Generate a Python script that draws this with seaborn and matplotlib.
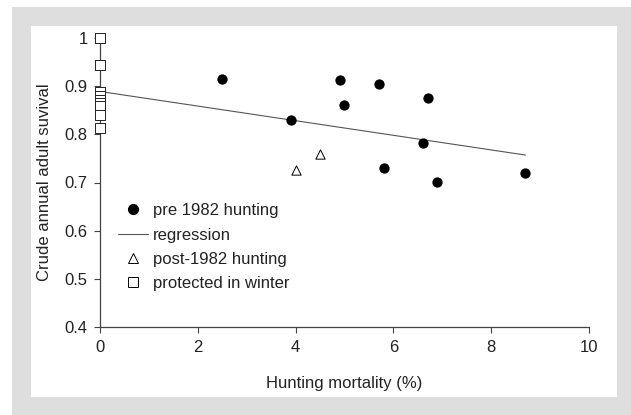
import numpy as np
import pandas as pd
import matplotlib
matplotlib.use("Agg")
import matplotlib.pyplot as plt
from matplotlib.patches import Rectangle
from matplotlib.ticker import FuncFormatter
from matplotlib.lines import Line2D
import seaborn as sns

# ---- data ----
pre_x = [2.5, 3.9, 4.9, 5.0, 5.7, 5.8, 6.6, 6.7, 6.9, 8.7]
pre_y = [0.915, 0.830, 0.913, 0.861, 0.904, 0.731, 0.781, 0.875, 0.701, 0.719]
post_x = [4.0, 4.5]
post_y = [0.726, 0.759]
prot_x = [0, 0, 0, 0, 0, 0, 0, 0, 0]
prot_y = [1.0, 0.943, 0.887, 0.880, 0.872, 0.865, 0.858, 0.840, 0.813]
reg_x = [0.0, 8.7]
reg_y = [0.889, 0.757]
x_ticks = [0, 2, 4, 6, 8, 10]
y_ticks = [0.4, 0.5, 0.6, 0.7, 0.8, 0.9, 1.0]

sns.set_theme(style="ticks")
plt.rcParams['font.family'] = ['Liberation Sans', 'DejaVu Sans']

W, H = 631, 415
fig = plt.figure(figsize=(W / 100, H / 100), dpi=100, facecolor="white")
fig.patches.append(Rectangle((12 / W, 0), 1 - 12 / W, 1 - 7 / H, transform=fig.transFigure,
                             facecolor="#dedede", edgecolor="none", zorder=-10))
fig.patches.append(Rectangle((31 / W, 1 - 397 / H), (617 - 31) / W, (397 - 26) / H,
                             transform=fig.transFigure, facecolor="white", edgecolor="none", zorder=-9))

ax = fig.add_axes([100 / W, 1 - 327 / H, (589 - 100) / W, (327 - 38) / H])
ax.set_facecolor("none")

df_pre = pd.DataFrame({"x": pre_x, "y": pre_y})
df_post = pd.DataFrame({"x": post_x, "y": post_y})
df_prot = pd.DataFrame({"x": prot_x, "y": prot_y})
df_reg = pd.DataFrame({"x": reg_x, "y": reg_y})

sns.lineplot(data=df_reg, x="x", y="y", ax=ax, color="#555555", linewidth=0.8, zorder=2)
sns.scatterplot(data=df_pre, x="x", y="y", ax=ax, marker="o", s=55, color="black",
                edgecolor="black", linewidth=0, zorder=3)
sns.scatterplot(data=df_post, x="x", y="y", ax=ax, marker="^", s=45, facecolor="white",
                edgecolor="black", linewidth=0.7, zorder=3)
sns.scatterplot(data=df_prot, x="x", y="y", ax=ax, marker="s", s=45, facecolor="white",
                edgecolor="#222222", linewidth=0.7, zorder=4, clip_on=False)

ax.set_xlim(0, 10)
ax.set_ylim(0.4, 1.0)
ax.set_xticks(x_ticks)
ax.set_yticks(y_ticks)
ax.yaxis.set_major_formatter(FuncFormatter(lambda v, p: f"{v:g}"))
for s in ["top", "right"]:
    ax.spines[s].set_visible(False)
for s in ["left", "bottom"]:
    ax.spines[s].set_color("#444444")
    ax.spines[s].set_linewidth(0.9)
ax.tick_params(axis="both", direction="out", length=4, width=0.8, color="#444444",
               labelsize=12, labelcolor="#222222", pad=5)
ax.set_xlabel("Hunting mortality (%)", fontsize=12, color="#222222", labelpad=15.5)
ax.set_ylabel("Crude annual adult suvival", fontsize=12, color="#222222", labelpad=9)

handles = [
    Line2D([], [], marker="o", linestyle="none", color="black", markersize=7),
    Line2D([], [], color="#555555", linewidth=0.8),
    Line2D([], [], marker="^", linestyle="none", markerfacecolor="white",
           markeredgecolor="black", markeredgewidth=0.7, markersize=7),
    Line2D([], [], marker="s", linestyle="none", markerfacecolor="white",
           markeredgecolor="black", markeredgewidth=0.7, markersize=7),
]
labels = ["pre 1982 hunting", "regression", "post-1982 hunting", "protected in winter"]
leg = ax.legend(handles, labels, loc="upper left", bbox_to_anchor=(0.036, 0.428),
                frameon=False, fontsize=12, handlelength=1.8, handletextpad=0.3,
                labelspacing=0.56, borderaxespad=0, borderpad=0)
for t in leg.get_texts():
    t.set_color("#222222")

fig.savefig("out.png", dpi=100, facecolor="white")
